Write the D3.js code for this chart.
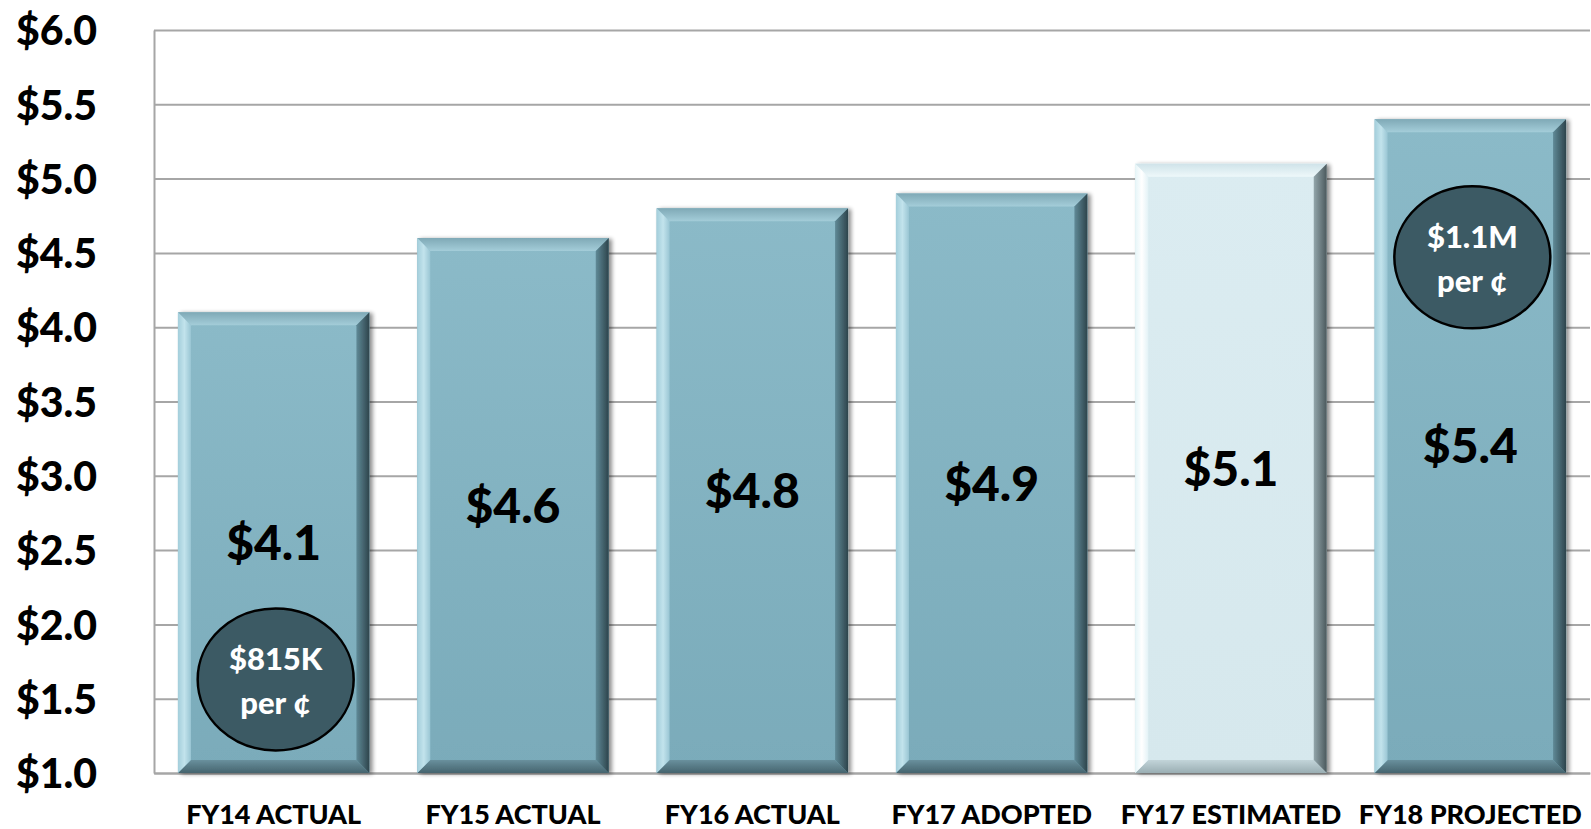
<!DOCTYPE html>
<html>
<head>
<meta charset="utf-8">
<script src="https://cdn.jsdelivr.net/npm/d3@7"></script>
<style>
  body { margin: 0; background: #fff; }
  text { font-family: Lato, "Open Sans", sans-serif; font-weight: 900; }
</style>
</head>
<body>
<script>
// chart data
var categories = ["FY14 ACTUAL", "FY15 ACTUAL", "FY16 ACTUAL", "FY17 ADOPTED", "FY17 ESTIMATED", "FY18 PROJECTED"];
var revenue = [4.1, 4.6, 4.8, 4.9, 5.1, 5.4];
var yTicks = [1.0, 1.5, 2.0, 2.5, 3.0, 3.5, 4.0, 4.5, 5.0, 5.5, 6.0];
var calloutCategories = ["FY14 ACTUAL", "FY18 PROJECTED"];
var calloutLines = [["$815K", "per \u00A2"], ["$1.1M", "per \u00A2"]];

// where the callout ovals sit, in axis units
var calloutAt = [1.63, 4.47];
var lightCategory = "FY17 ESTIMATED";

var svgWidth = 1591;
var svgHeight = 829;
var margin = { top: 30, right: 1, bottom: 56, left: 154 };
var chartWidth = svgWidth - margin.left - margin.right;
var chartHeight = svgHeight - margin.top - margin.bottom;

var svg = d3.select("body")
  .append("svg")
  .attr("width", svgWidth)
  .attr("height", svgHeight);

var defs = svg.append("defs");

// soft shadow like the office bevel bars
var shadow = defs.append("filter").attr("id", "shadow")
  .attr("x", "-10%").attr("y", "-10%").attr("width", "120%").attr("height", "120%");
shadow.append("feGaussianBlur").attr("in", "SourceAlpha").attr("stdDeviation", 2);
shadow.append("feOffset").attr("dx", 3).attr("dy", 1).attr("result", "blur");
shadow.append("feComponentTransfer").append("feFuncA").attr("type", "linear").attr("slope", 0.45);
var merge = shadow.append("feMerge");
merge.append("feMergeNode");
merge.append("feMergeNode").attr("in", "SourceGraphic");

function grad(id, vertical, stops) {
  var g = defs.append("linearGradient").attr("id", id)
    .attr("x1", 0).attr("y1", 0)
    .attr("x2", vertical ? 0 : 1).attr("y2", vertical ? 1 : 0);
  stops.forEach(function(s, i) {
    g.append("stop").attr("offset", (i / (stops.length - 1) * 100) + "%").attr("stop-color", s);
  });
}

var themes = {
  dark: { face: ["#8bbac8", "#7aabba"], top: ["#7fa9b6", "#a4cdd9"], left: ["#a3cedb", "#c2e3ec", "#9ac6d4"],
          right: ["#608a97", "#2d444c"], bottom: ["#69909d", "#45646e"] },
  light: { face: ["#dbecf1", "#d6e8ed"], top: ["#cfe3e9", "#eef8fa"], left: ["#e6f5f8", "#ffffff", "#e3f2f6"],
           right: ["#93a6ab", "#4b595d"], bottom: ["#c2d4d9", "#9aaeb3"] }
};
Object.keys(themes).forEach(function(k) {
  var t = themes[k];
  grad(k + "-face", true, t.face);
  grad(k + "-top", true, t.top);
  grad(k + "-left", false, t.left);
  grad(k + "-right", false, t.right);
  grad(k + "-bottom", true, t.bottom);
});

var chartGroup = svg.append("g")
  .attr("transform", `translate(${margin.left}, ${margin.top})`);

var data = categories.map(function(c, i) { return { category: c, value: revenue[i] }; });

var xBandScale = d3.scaleBand()
  .domain(categories)
  .range([0, chartWidth])
  .paddingInner(0.2)
  .paddingOuter(0.1);

var yLinearScale = d3.scaleLinear()
  .domain([1, 6])
  .range([chartHeight, 0]);

// y axis + gridlines
var leftAxis = d3.axisLeft(yLinearScale)
  .tickValues(yTicks)
  .tickSizeInner(-chartWidth)
  .tickSizeOuter(0)
  .tickPadding(57)
  .tickFormat(function(d) { return "$" + d.toFixed(1); });

var yAxisG = chartGroup.append("g").call(leftAxis);
yAxisG.selectAll("line").attr("stroke", "#a6a6a6").attr("stroke-width", 2);
yAxisG.select(".domain").attr("stroke", "#a6a6a6").attr("stroke-width", 2);
yAxisG.selectAll("text")
  .attr("fill", "#000")
  .style("font-size", "41px")
  .attr("dy", "0.36em");

// x axis labels
var bottomAxis = d3.axisBottom(xBandScale).tickSize(0).tickPadding(32);
var xAxisG = chartGroup.append("g")
  .attr("transform", `translate(0, ${chartHeight})`)
  .call(bottomAxis);
xAxisG.select(".domain").attr("stroke", "#a6a6a6").attr("stroke-width", 2);
xAxisG.selectAll("text").attr("fill", "#000").style("font-size", "27px");

// bars with bevel
var b = 13;
var bars = chartGroup.selectAll(".bar")
  .data(data)
  .enter()
  .append("g")
  .attr("class", "bar")
  .attr("filter", "url(#shadow)");

bars.each(function(d) {
  var g = d3.select(this);
  var t = d.category === lightCategory ? "light" : "dark";
  var x0 = xBandScale(d.category), x1 = x0 + xBandScale.bandwidth();
  var y0 = yLinearScale(d.value), y1 = yLinearScale(1);
  g.append("rect").attr("x", x0).attr("y", y0).attr("width", x1 - x0).attr("height", y1 - y0)
    .attr("fill", `url(#${t}-face)`);
  var pts = {
    top: [[x0, y0], [x1, y0], [x1 - b, y0 + b], [x0 + b, y0 + b]],
    bottom: [[x0, y1], [x1, y1], [x1 - b, y1 - b], [x0 + b, y1 - b]],
    left: [[x0, y0], [x0 + b, y0 + b], [x0 + b, y1 - b], [x0, y1]],
    right: [[x1, y0], [x1 - b, y0 + b], [x1 - b, y1 - b], [x1, y1]]
  };
  Object.keys(pts).forEach(function(side) {
    g.append("polygon")
      .attr("points", pts[side].map(function(p) { return p.join(","); }).join(" "))
      .attr("fill", `url(#${t}-${side})`);
  });
});

// value labels in the middle of each bar
chartGroup.selectAll(".value")
  .data(data)
  .enter()
  .append("text")
  .attr("class", "value")
  .attr("x", d => xBandScale(d.category) + xBandScale.bandwidth() / 2)
  .attr("y", d => (yLinearScale(d.value) + yLinearScale(1)) / 2)
  .attr("dy", "0.36em")
  .attr("text-anchor", "middle")
  .attr("fill", "#000")
  .style("font-size", "48px")
  .text(d => "$" + d.value.toFixed(1));

// callout ovals
calloutCategories.forEach(function(c, i) {
  var cx = xBandScale(c) + xBandScale.bandwidth() / 2 + 2;
  var cy = yLinearScale(calloutAt[i]);
  var g = chartGroup.append("g");
  g.append("ellipse")
    .attr("cx", cx).attr("cy", cy)
    .attr("rx", 78).attr("ry", 71)
    .attr("fill", "#3c5a64")
    .attr("stroke", "#000")
    .attr("stroke-width", 2.5);
  g.selectAll("text")
    .data(calloutLines[i])
    .enter()
    .append("text")
    .attr("x", cx)
    .attr("y", (d, j) => cy + (j === 0 ? -21 : 23))
    .attr("dy", "0.36em")
    .attr("text-anchor", "middle")
    .attr("fill", "#fff")
    .style("font-size", "31px")
    .text(d => d);
});
</script>
</body>
</html>
